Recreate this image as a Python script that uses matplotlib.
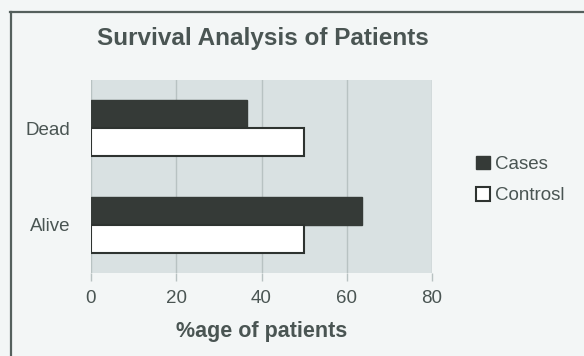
import matplotlib
matplotlib.use("Agg")
import matplotlib.pyplot as plt
from matplotlib.lines import Line2D
import numpy as np

plt.rcParams['font.family'] = ['Liberation Sans', 'DejaVu Sans']

categories = ["Alive", "Dead"]
cases = [63.5, 36.5]
controls = [50, 50]
series_labels = ["Cases", "Controsl"]
x_ticks = [0, 20, 40, 60, 80]

text_col = "#4a5553"
dark = "#353a37"

fig = plt.figure(figsize=(5.84, 3.56), dpi=100)
fig.patch.set_facecolor("#f3f6f6")

W, H = 584, 356
def fx(px): return px / W
def fy(py): return 1 - py / H

# outer chart frame (left and top edges)
fig.add_artist(Line2D([fx(10.5), fx(10.5)], [fy(12), fy(356)], color="#55605d", lw=1.6))
fig.add_artist(Line2D([fx(10), fx(584)], [fy(12), fy(12)], color="#55605d", lw=1.6))

ax = fig.add_axes([fx(91), fy(273), fx(432) - fx(91), fy(80) - fy(273)])
ax.set_facecolor("#d9e1e2")

y = np.arange(len(categories))
h = 0.29
b1 = ax.barh(y + h / 2, cases, height=h, color=dark, edgecolor=dark, lw=1.0,
             label=series_labels[0], zorder=3)
b2 = ax.barh(y - h / 2, controls, height=h, color="white", edgecolor="#2e3330", lw=1.5,
             label=series_labels[1], zorder=3)

ax.set_xlim(0, 80)
ax.set_ylim(-0.5, 1.5)
ax.set_xticks(x_ticks)
ax.set_xticklabels([str(t) for t in x_ticks])
ax.set_yticks(y)
ax.set_yticklabels(categories)
ax.grid(axis="x", color="#b8c2c2", lw=1.0, zorder=1)
for s in ax.spines.values():
    s.set_visible(False)
ax.tick_params(axis="x", length=6, width=1.0, colors="#b8c2c2", labelcolor=text_col,
               labelsize=13.5, pad=6)
ax.tick_params(axis="y", length=0, labelsize=13.5, labelcolor=text_col, pad=15)

ax.set_xlabel("%age of patients", fontsize=15.5, fontweight="bold", color=text_col, labelpad=10)

fig.text(fx(263), fy(39), "Survival Analysis of Patients", ha="center", va="center",
         fontsize=17.5, fontweight="bold", color=text_col)

leg = fig.legend(handles=[b1, b2], labels=series_labels, loc="center left",
                 bbox_to_anchor=(fx(468), fy(180)), frameon=False, fontsize=13.5,
                 handlelength=0.75, handleheight=0.75, handletextpad=0.3, labelspacing=0.75,
                 borderaxespad=0)
for t in leg.get_texts():
    t.set_color(text_col)

fig.savefig("out.png", dpi=100, facecolor=fig.get_facecolor())
